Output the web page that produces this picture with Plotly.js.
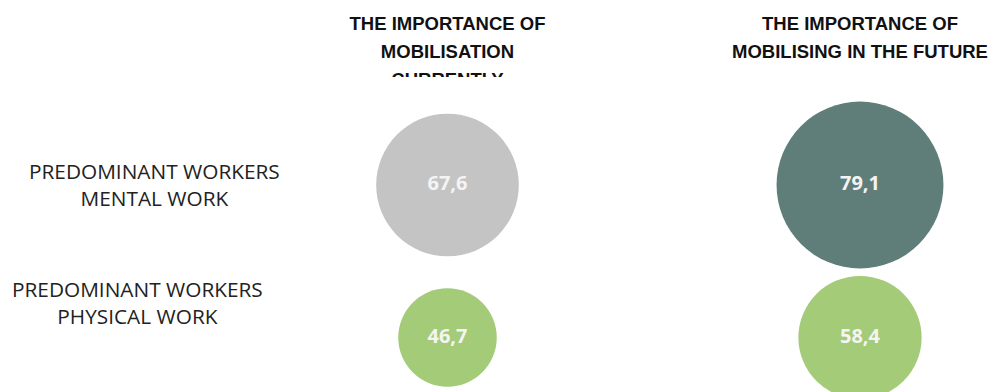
<!DOCTYPE html>
<html>
<head>
<meta charset="utf-8">
<script src="https://cdn.plot.ly/plotly-3.0.1.min.js"></script>
<style>html,body{margin:0;padding:0;background:#fff;}#chart{width:996px;height:392px;}</style>
</head>
<body>
<div id="chart"></div>
<script>
// ---- data ----
const columns = ["Currently", "In the future"];
const columnHeaders = [
  ["THE IMPORTANCE OF", "MOBILISATION", "CURRENTLY"],
  ["THE IMPORTANCE OF", "MOBILISING IN THE FUTURE"]
];
const rows = ["PREDOMINANT WORKERS<br>MENTAL WORK", "PREDOMINANT WORKERS<br>PHYSICAL WORK"];
const currentValues = [67.6, 46.7];
const futureValues = [79.1, 58.4];
const currentColors = ["#c4c4c4", "#a4cb77"];
const futureColors = ["#5f7e7a", "#a4cb77"];

// ---- geometry helpers (layout only) ----
const W = 996, H = 392;
const colPx = [447.5, 860];            // pixel centres of the two columns
const xUnit = colPx[1] - colPx[0];
const xRange = [-colPx[0] / xUnit, (W - colPx[0]) / xUnit];

const headerBottom = 77;               // header strip clips here
const rowPx = [185, 337.5];
const yUnit = rowPx[1] - rowPx[0];
const yRange = [(H - rowPx[0]) / yUnit, (headerBottom - rowPx[0]) / yUnit];

const hdrLine0 = 25.5, hdrStep = 28;
const hdrRange = [(headerBottom - hdrLine0) / hdrStep, (0 - hdrLine0) / hdrStep];

const fmt = v => v.toFixed(1).replace('.', ',');
const sizeref = 1 / 2.11;

const bubbleTrace = (vals, colors, col) => ({
  type: 'scatter', mode: 'markers+text',
  x: rows.map(() => columns[col]),
  y: rows,
  text: vals.map(fmt),
  textposition: 'middle center',
  textfont: {family: 'Open Sans, sans-serif', size: 20, color: '#f4f4f4', weight: 'bold'},
  marker: {size: vals, sizemode: 'diameter', sizeref: sizeref, color: colors, opacity: 1, line: {width: 0}},
  cliponaxis: true, hoverinfo: 'skip', xaxis: 'x', yaxis: 'y'
});

const hx = [], hy = [], ht = [];
columnHeaders.forEach((lines, c) => lines.forEach((t, i) => { hx.push(columns[c]); hy.push(i); ht.push(t); }));

const headerTrace = {
  type: 'scatter', mode: 'text', x: hx, y: hy, text: ht,
  textposition: 'middle center',
  textfont: {family: 'Liberation Sans, Arial, sans-serif', size: 18.5, color: '#111', weight: 'bold'},
  cliponaxis: true, hoverinfo: 'skip', xaxis: 'x', yaxis: 'y2'
};

const labelPx = [[154, 185], [137, 302]];
const annotations = rows.map((r, i) => ({
  xref: 'paper', yref: 'paper',
  x: labelPx[i][0] / W, y: 1 - labelPx[i][1] / H,
  xanchor: 'center', yanchor: 'middle', align: 'center',
  text: r, showarrow: false,
  font: {family: 'Open Sans, sans-serif', size: 20.8, color: '#222'}
}));

const layout = {
  width: W, height: H,
  margin: {l: 0, r: 0, t: 0, b: 0, pad: 0},
  paper_bgcolor: '#fff', plot_bgcolor: 'rgba(0,0,0,0)',
  showlegend: false,
  xaxis: {type: 'category', categoryarray: columns, range: xRange, visible: false, fixedrange: true},
  yaxis: {type: 'category', categoryarray: rows, range: yRange, domain: [0, 1 - headerBottom / H], visible: false, fixedrange: true},
  yaxis2: {range: hdrRange, domain: [1 - headerBottom / H, 1], anchor: 'x', visible: false, fixedrange: true},
  annotations: annotations
};

Plotly.newPlot('chart', [
  bubbleTrace(currentValues, currentColors, 0),
  bubbleTrace(futureValues, futureColors, 1),
  headerTrace
], layout, {displayModeBar: false, staticPlot: true});
</script>
</body>
</html>
